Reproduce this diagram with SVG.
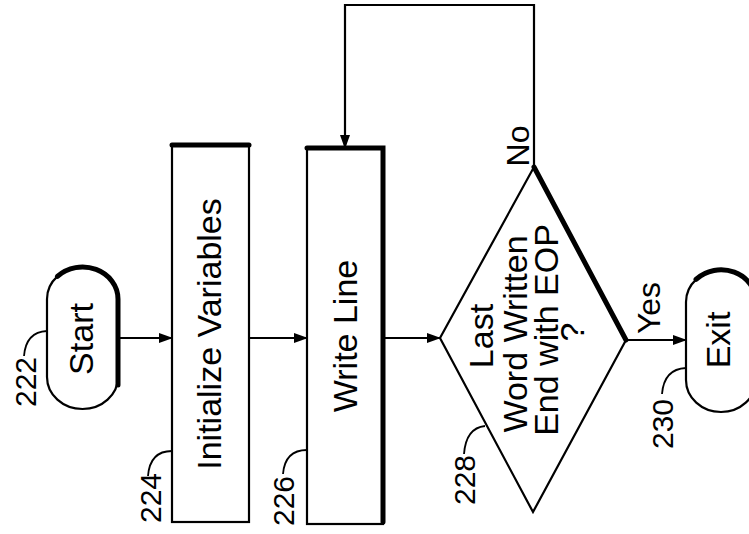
<svg xmlns="http://www.w3.org/2000/svg" width="749" height="534" viewBox="0 0 749 534">
<style>
.shape{fill:#fff;stroke:#000;stroke-width:2.2}
.shadow{fill:none;stroke:#000;stroke-width:5;stroke-linecap:round}
.line{fill:none;stroke:#000;stroke-width:2.2}
.lead{fill:none;stroke:#000;stroke-width:1.8}
.t{font-family:"Liberation Sans",Arial,sans-serif;font-size:34px;fill:#000;text-anchor:middle}
.n{font-family:"Liberation Sans",Arial,sans-serif;font-size:30px;fill:#000;text-anchor:middle}
.yn{font-family:"Liberation Sans",Arial,sans-serif;font-size:32px;fill:#000;text-anchor:middle}
</style>
<defs>
<marker id="arr" markerWidth="14" markerHeight="10" refX="13" refY="5" orient="auto" markerUnits="userSpaceOnUse">
<path d="M0,0 L14,5 L0,10 Z" fill="#000"/>
</marker>
</defs>
<rect width="749" height="534" fill="#fff"/>
<g id="connectors">
<line class="line" x1="118" y1="338" x2="172" y2="338" marker-end="url(#arr)"/>
<line class="line" x1="249" y1="338" x2="307" y2="338" marker-end="url(#arr)"/>
<line class="line" x1="383" y1="338" x2="440" y2="338" marker-end="url(#arr)"/>
<line class="line" x1="626" y1="340" x2="686" y2="340" marker-end="url(#arr)"/>
<polyline class="line" points="534,167 534,5 345,5 345,148" marker-end="url(#arr)"/>
<text class="yn" transform="translate(529,146) rotate(-90)">No</text>
<text class="yn" transform="translate(660,308) rotate(-90)">Yes</text>
</g>
<g id="n222">
<rect class="shape" x="47" y="267" width="71" height="142" rx="35.5" ry="32"/>
<path class="shadow" d="M57.4 276.4 A35.5 32 0 0 1 118 299 L118 385"/>
<text class="t" transform="translate(93,339) rotate(-90)">Start</text>
<path class="lead" d="M24 356 Q26 332 47 331"/>
<text class="n" transform="translate(36,382) rotate(-90)">222</text>
</g>
<g id="n224">
<rect class="shape" x="172" y="145" width="77" height="377"/>
<line class="shadow" x1="172" y1="145" x2="249" y2="145"/>
<text class="t" transform="translate(221,334) rotate(-90)">Initialize Variables</text>
<path class="lead" d="M148 476 Q150 451 172 451"/>
<text class="n" transform="translate(161,498) rotate(-90)">224</text>
</g>
<g id="n226">
<rect class="shape" x="307" y="148" width="76" height="376"/>
<path class="shadow" d="M307 148 L383 148 L383 522"/>
<text class="t" transform="translate(357,336) rotate(-90)">Write Line</text>
<path class="lead" d="M283 474 Q285 450 307 450"/>
<text class="n" transform="translate(294,501) rotate(-90)">226</text>
</g>
<g id="n228">
<polygon class="shape" points="440,338 534,167 626,340 533,512"/>
<line class="shadow" x1="534" y1="167" x2="626" y2="340"/>
<text class="t" transform="translate(493,336) rotate(-90)">Last</text>
<text class="t" transform="translate(527,334) rotate(-90)">Word Written</text>
<text class="t" transform="translate(558,330) rotate(-90)">End with EOP</text>
<text class="t" transform="translate(584,332) rotate(-90)">?</text>
<path class="lead" d="M464 454 Q466 428 485 426"/>
<text class="n" transform="translate(475,480) rotate(-90)">228</text>
</g>
<g id="n230">
<rect class="shape" x="686" y="270" width="70" height="142" rx="35" ry="32"/>
<path class="shadow" d="M696 279.4 A35 32 0 0 1 756 302 L756 385"/>
<text class="t" transform="translate(730,340) rotate(-90)">Exit</text>
<path class="lead" d="M662 394 Q664 369 686 368"/>
<text class="n" transform="translate(673,424) rotate(-90)">230</text>
</g>
</svg>
